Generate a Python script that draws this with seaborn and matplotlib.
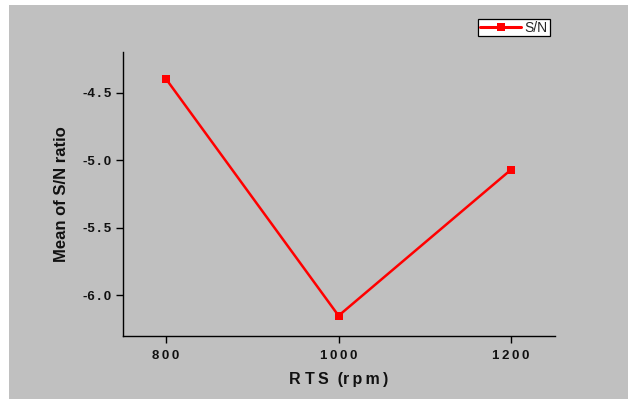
import matplotlib
matplotlib.use("Agg")
import matplotlib.pyplot as plt
import seaborn as sns
import pandas as pd
from matplotlib.patches import Rectangle

# Mean S/N ratio for each rotational speed level
rts_levels = [800, 1000, 1200]
sn_mean = [-4.40, -6.15, -5.07]
x_ticks = [800, 1000, 1200]
y_ticks = [-6.0, -5.5, -5.0, -4.5]
y_tick_labels = ["-6.0", "-5.5", "-5.0", "-4.5"]

df = pd.DataFrame({"RTS": rts_levels, "SN": sn_mean})

sns.set_style("ticks")
plt.rcParams["font.family"] = ["Liberation Sans", "DejaVu Sans"]

THIN = "\u2009"


def spaced(s):
    """Loosen letter spacing with thin spaces."""
    return THIN.join(s)


gray = "#c0c0c0"
fig = plt.figure(figsize=(6.28, 3.99), dpi=100, facecolor="white")
# gray panel behind the plot, leaving a thin white margin at left and top
fig.patches.append(Rectangle((9 / 628, 0), 1 - 9 / 628, 1 - 5 / 399,
                             transform=fig.transFigure, facecolor=gray,
                             edgecolor="none", zorder=-10))

ax = fig.add_axes([123 / 628, 1 - 336 / 399, (555 - 123) / 628, (336 - 52) / 399])
ax.set_facecolor(gray)
ax.set_zorder(1)

sns.lineplot(data=df, x="RTS", y="SN", ax=ax, color="#ff0000", linewidth=1.8,
             marker="s", markersize=5.5, markeredgewidth=0, label="S/N")

ax.set_xlim(750, 1251)
ax.set_ylim(-6.3, -4.2)
ax.set_xticks(x_ticks)
ax.set_xticklabels([spaced(str(t)) for t in x_ticks])
ax.set_yticks(y_ticks)
ax.set_yticklabels([s[0] + spaced(s[1:]) for s in y_tick_labels])

for side in ("top", "right"):
    ax.spines[side].set_visible(False)
for side in ("left", "bottom"):
    ax.spines[side].set_color("black")
    ax.spines[side].set_linewidth(1.0)

ax.tick_params(axis="both", direction="out", length=5, width=1, color="black",
               labelsize=9.5, labelcolor="#111111")
ax.tick_params(axis="x", pad=5)
for lbl in ax.get_xticklabels() + ax.get_yticklabels():
    lbl.set_fontweight("bold")

ax.set_xlabel("R T" + THIN + "S  (" + spaced("rpm)"), fontsize=11.5, fontweight="bold",
              labelpad=7, color="#111111")
ax.set_ylabel("Mean of S/N ratio", fontsize=12, fontweight="bold", labelpad=10,
              color="#111111")

leg = ax.legend(loc="upper left", bbox_to_anchor=((478 - 123) / 432, 1 + (52 - 19) / 284),
                frameon=True, fancybox=False, shadow=False, fontsize=10,
                handlelength=3.0, borderpad=0.12, handletextpad=0.25,
                borderaxespad=0)
leg.get_frame().set_edgecolor("black")
leg.get_frame().set_facecolor("white")
leg.get_frame().set_linewidth(0.9)
leg.get_frame().set_alpha(1)
for h in leg.legend_handles:
    h.set_linewidth(2.2)
    h.set_markersize(5.5)

fig.savefig("out.png", dpi=100, facecolor=fig.get_facecolor())
